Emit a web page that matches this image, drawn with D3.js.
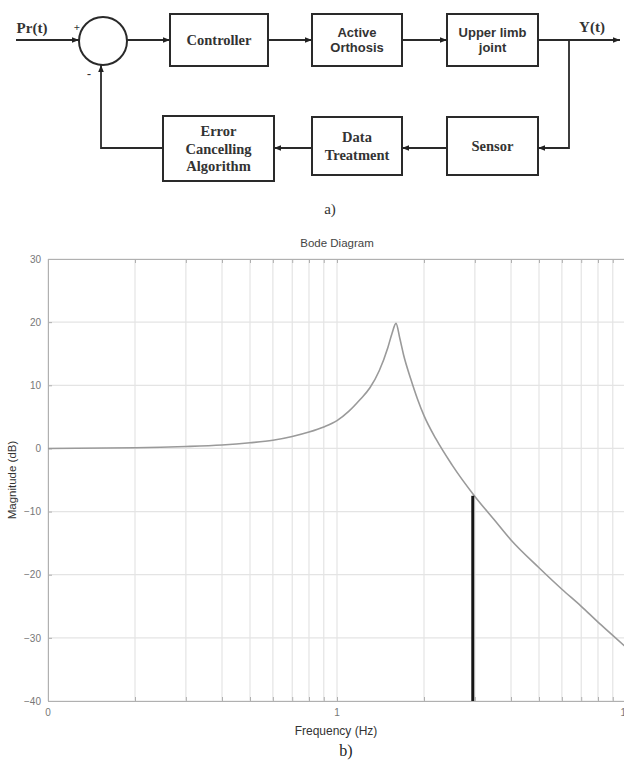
<!DOCTYPE html>
<html>
<head>
<meta charset="utf-8">
<script src="https://cdn.jsdelivr.net/npm/d3@7"></script>
<style>
  body { margin: 0; background: #fff; }
  svg { display: block; }
</style>
</head>
<body>
<div id="chart"></div>
<script>
// ------------- DATA ------------- //
var freq = [0.1, 0.2, 0.3, 0.4, 0.5, 0.6, 0.7, 0.8, 0.9, 1.0, 1.1, 1.2, 1.3, 1.4, 1.5, 1.55, 1.6, 1.65, 1.7, 1.8, 1.9, 2.0, 2.2, 2.5, 3, 3.5, 4, 5, 6, 7, 8, 9, 10];
var magDb = [0, 0.1, 0.3, 0.55, 0.9, 1.3, 1.9, 2.6, 3.4, 4.4, 5.9, 7.7, 9.6, 12.3, 16.0, 18.2, 19.8, 17.4, 14.8, 11.0, 7.8, 5.2, 1.5, -2.6, -7.6, -11.3, -14.5, -18.9, -22.3, -25.0, -27.5, -29.6, -31.5];
var markFreq = 2.95;        // black marker line
var markTop = -7.5;         // where it meets the curve (dB)
var yTicks = [30, 20, 10, 0, -10, -20, -30, -40];
var xTickLabels = [[0.1, "0"], [1, "1"], [10, "10"]];

// block diagram labels
var forwardBlocks = [["Controller"], ["Active", "Orthosis"], ["Upper limb", "joint"]];
var feedbackBlocks = [["Error", "Cancelling", "Algorithm"], ["Data", "Treatment"], ["Sensor"]];

var W = 624, H = 764;
var svg = d3.select("#chart").append("svg").attr("width", W).attr("height", H);

var defs = svg.append("defs");
defs.append("marker").attr("id", "arr")
  .attr("viewBox", "0 0 10 10").attr("refX", 10).attr("refY", 5)
  .attr("markerWidth", 7).attr("markerHeight", 7).attr("markerUnits", "userSpaceOnUse")
  .attr("orient", "auto")
  .append("path").attr("d", "M0,1 L10,5 L0,9 Z").attr("fill", "#222");

// ------------- BLOCK DIAGRAM ------------- //
var diag = svg.append("g");
var ink = "#2a2a2a";
var serif = "'Liberation Serif', 'DejaVu Serif', serif";
var sans = "'Liberation Sans', Arial, sans-serif";

function box(x0, x1, y0, y1, lines, font, size, lh) {
  diag.append("rect").attr("x", x0).attr("y", y0).attr("width", x1 - x0).attr("height", y1 - y0)
    .attr("fill", "#fff").attr("stroke", ink).attr("stroke-width", 2);
  var cy = (y0 + y1) / 2;
  lines.forEach(function(t, i) {
    diag.append("text").attr("x", (x0 + x1) / 2)
      .attr("y", cy + (i - (lines.length - 1) / 2) * lh)
      .attr("dy", "0.35em").attr("text-anchor", "middle")
      .style("font-family", font).style("font-weight", "bold").style("font-size", size + "px")
      .attr("fill", "#333").text(t);
  });
}
function wire(pts, arrow) {
  diag.append("path").attr("d", d3.line()(pts)).attr("fill", "none")
    .attr("stroke", ink).attr("stroke-width", 1.8)
    .attr("marker-end", arrow ? "url(#arr)" : null);
}

var fx = [[170, 268], [312, 402], [447, 538]];
var bx = [[163, 274], [312, 402], [447, 538]];
box(fx[0][0], fx[0][1], 14, 66, forwardBlocks[0], serif, 14.5, 17);
box(fx[1][0], fx[1][1], 14, 66, forwardBlocks[1], sans, 13, 15.5);
box(fx[2][0], fx[2][1], 14, 66, forwardBlocks[2], sans, 13, 15.5);
box(bx[0][0], bx[0][1], 116, 181, feedbackBlocks[0], serif, 14.5, 17.5);
box(bx[1][0], bx[1][1], 117, 175, feedbackBlocks[1], serif, 14.5, 17.5);
box(bx[2][0], bx[2][1], 117, 175, feedbackBlocks[2], serif, 14.5, 17);

diag.append("circle").attr("cx", 103).attr("cy", 41).attr("r", 24)
  .attr("fill", "none").attr("stroke", ink).attr("stroke-width", 2);

wire([[16, 40], [79, 40]], true);
wire([[127, 40], [170, 40]], true);
wire([[268, 40], [312, 40]], true);
wire([[402, 40], [447, 40]], true);
wire([[538, 40], [620, 40]], true);
wire([[569, 40], [569, 148], [538, 148]], true);
wire([[447, 148], [402, 148]], true);
wire([[312, 148], [274, 148]], true);
wire([[163, 148], [101, 148], [101, 65]], true);

function label(x, y, t, size, font, weight) {
  diag.append("text").attr("x", x).attr("y", y).attr("text-anchor", "middle")
    .style("font-family", font || serif).style("font-weight", weight || "bold")
    .style("font-size", size + "px").attr("fill", "#333").text(t);
}
label(32, 33, "Pr(t)", 15);
label(592, 32, "Y(t)", 15);
label(77, 31, "+", 11);
label(89, 78, "-", 12);
label(330, 214, "a)", 15, serif, "normal");

// ------------- BODE PLOT ------------- //
var x = d3.scaleLog().domain([0.1, 10]).range([48, 626]);
var y = d3.scaleLinear().domain([-40, 30]).range([701, 259]);
var plot = svg.append("g");
var gridCol = "#e4e4e4", axCol = "#b0b0b0", txtCol = "#777";

var minor = x.ticks();
plot.selectAll(".vg").data(minor).enter().append("line")
  .attr("x1", function(d) { return x(d); }).attr("x2", function(d) { return x(d); })
  .attr("y1", y(30)).attr("y2", y(-40))
  .attr("stroke", gridCol).attr("stroke-width", 1.2);
plot.selectAll(".hg").data(yTicks).enter().append("line")
  .attr("x1", x(0.1)).attr("x2", x(10))
  .attr("y1", function(d) { return y(d); }).attr("y2", function(d) { return y(d); })
  .attr("stroke", gridCol).attr("stroke-width", 1.2);

// axes (ticks point inwards, MATLAB style)
var axBottom = plot.append("g").attr("transform", "translate(0," + y(-40) + ")")
  .call(d3.axisBottom(x).tickValues(minor).tickSizeInner(-4).tickSizeOuter(0).tickFormat(""));
var axTop = plot.append("g").attr("transform", "translate(0," + y(30) + ")")
  .call(d3.axisTop(x).tickValues(minor).tickSizeInner(-4).tickSizeOuter(0).tickFormat(""));
var axLeft = plot.append("g").attr("transform", "translate(" + x(0.1) + ",0)")
  .call(d3.axisLeft(y).tickValues(yTicks).tickSizeInner(-4).tickSizeOuter(0).tickPadding(7));
[axBottom, axTop, axLeft].forEach(function(g) {
  g.selectAll("path, line").attr("stroke", axCol);
  g.selectAll("text").attr("fill", txtCol).style("font-family", "Arial, 'Liberation Sans', sans-serif").style("font-size", "10px");
});

plot.selectAll(".xl").data(xTickLabels).enter().append("text")
  .attr("x", function(d) { return x(d[0]); }).attr("y", 716)
  .attr("text-anchor", "middle").attr("fill", txtCol)
  .style("font-family", "Arial, 'Liberation Sans', sans-serif").style("font-size", "10px")
  .text(function(d) { return d[1]; });

var pts = freq.map(function(f, i) { return [f, magDb[i]]; });
plot.append("path").datum(pts)
  .attr("d", d3.line().x(function(d) { return x(d[0]); }).y(function(d) { return y(d[1]); }).curve(d3.curveMonotoneX))
  .attr("fill", "none").attr("stroke", "#9a9a9a").attr("stroke-width", 1.6);

plot.append("line").attr("x1", x(markFreq)).attr("x2", x(markFreq))
  .attr("y1", y(markTop)).attr("y2", y(-40))
  .attr("stroke", "#151515").attr("stroke-width", 3);

plot.append("text").attr("x", 337).attr("y", 247).attr("text-anchor", "middle")
  .attr("fill", "#444").style("font-family", "Arial, 'Liberation Sans', sans-serif").style("font-size", "11.5px")
  .text("Bode Diagram");
plot.append("text").attr("x", 336).attr("y", 735).attr("text-anchor", "middle")
  .attr("fill", "#333").style("font-family", "Arial, 'Liberation Sans', sans-serif").style("font-size", "12px")
  .text("Frequency  (Hz)");
plot.append("text").attr("transform", "translate(16,480) rotate(-90)").attr("text-anchor", "middle")
  .attr("fill", "#333").style("font-family", "Arial, 'Liberation Sans', sans-serif").style("font-size", "11.5px")
  .text("Magnitude (dB)");
plot.append("text").attr("x", 346).attr("y", 756).attr("text-anchor", "middle")
  .attr("fill", "#222").style("font-family", serif).style("font-size", "16px")
  .text("b)");
</script>
</body>
</html>
